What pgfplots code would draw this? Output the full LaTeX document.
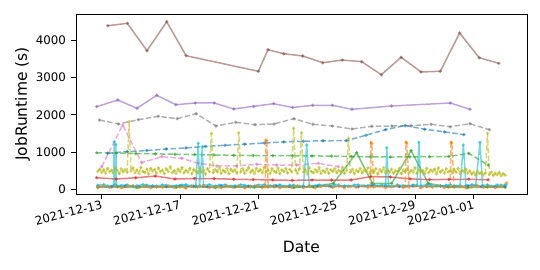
\documentclass[border=0pt]{standalone}
\usepackage{fontspec}
\setmainfont{DejaVu Sans}
\usepackage{pgfplots}
\pgfplotsset{compat=1.18}
\definecolor{tabblue}{HTML}{1F77B4}
\definecolor{taborange}{HTML}{FF7F0E}
\definecolor{tabgreen}{HTML}{2CA02C}
\definecolor{tabred}{HTML}{D62728}
\definecolor{tabpurple}{HTML}{9467BD}
\definecolor{tabbrown}{HTML}{8C564B}
\definecolor{tabpink}{HTML}{E377C2}
\definecolor{tabgray}{HTML}{7F7F7F}
\definecolor{tabolive}{HTML}{BCBD22}
\definecolor{tabcyan}{HTML}{17BECF}
\pgfplotsset{
  ser/.style={line width=1.5bp, opacity=0.6, mark=*, mark size=0.8bp, mark options={solid}},
  dsh/.style={dash pattern=on 5.5bp off 2.4bp},
}
\begin{document}
\begin{tikzpicture}
\begin{axis}[
  at={(76bp,76bp)}, anchor=south west,
  scale only axis, width=451bp, height=180bp,
  xmin=-1.313, xmax=21.72, ymin=-126, ymax=4700,
  xtick={0,4,8,12,16,19},
  xticklabels={2021-12-13,2021-12-17,2021-12-21,2021-12-25,2021-12-29,2022-01-01},
  ytick={0,1000,2000,3000,4000},
  yticklabels={0,1000,2000,3000,4000},
  /pgf/number format/assume math mode=true,
  tick align=outside, tick pos=left, major tick length=4.5bp,
  every tick/.style={black, line width=0.8bp},
  axis line style={line width=0.8bp},
  tick label style={font=\fontsize{11.8bp}{13bp}\selectfont},
  x tick label style={rotate=14, anchor=north east, inner sep=1bp},
  y tick label style={xshift=-2bp},
  xlabel={Date}, ylabel={JobRuntime (s)},
  label style={font=\fontsize{15.5bp}{17bp}\selectfont},
  xlabel style={at={(axis description cs:0.5,-0.324)}, anchor=base},
  ylabel style={at={(axis description cs:-0.1186,0.5)}, anchor=center},
]
% brown
\addplot[ser, color=tabbrown] coordinates {(0.31,4386)(1.31,4450)(2.31,3716)(3.32,4493)(4.31,3582)(8.0,3164)(8.49,3743)(9.3,3635)(10.27,3574)(11.29,3394)(12.29,3466)(13.28,3421)(14.28,3072)(15.29,3539)(16.31,3145)(17.29,3164)(18.28,4190)(19.28,3528)(20.28,3378)};
% purple
\addplot[ser, color=tabpurple] coordinates {(-0.26,2214)(0.82,2394)(1.80,2172)(2.81,2520)(3.79,2268)(4.78,2314)(5.75,2314)(6.74,2153)(7.76,2225)(8.78,2295)(9.75,2193)(10.78,2252)(11.78,2252)(12.78,2145)(14.8,2233)(17.8,2314)(18.81,2145)};
% gray dashed
\addplot[ser, dsh, color=tabgray] coordinates {(-0.12,1858)(0.85,1751)(1.87,1866)(2.89,1957)(3.86,1893)(4.82,2027)(5.84,1697)(6.84,1796)(7.83,1732)(8.8,1751)(9.82,1893)(10.78,1743)(11.78,1697)(12.78,1617)(13.79,1689)(14.81,1697)(15.81,1705)(16.82,1743)(17.8,1678)(18.81,1759)(19.8,1598)};
% blue dashed
\addplot[ser, dsh, color=tabblue] coordinates {(0.3,965)(1.3,1010)(2.3,1040)(3.3,1080)(4.3,1110)(5.3,1150)(6.3,1180)(7.3,1210)(8.3,1240)(9.3,1270)(10.3,1290)(11.3,1300)(12.5,1305)(13.5,1450)(14.5,1600)(15.5,1710)(16.5,1610)(17.5,1540)(18.5,1465)};
% green dashed
\addplot[ser, dsh, color=tabgreen] coordinates {(-0.26,980)(0.74,970)(1.74,960)(2.74,950)(3.74,940)(4.74,930)(5.74,920)(6.74,910)(7.74,905)(8.74,900)(9.74,900)(10.74,895)(11.74,890)(12.74,880)(13.74,870)(14.74,865)(15.74,870)(16.74,875)(17.74,880)(18.74,965)(19.74,650)};
% pink dashed
\addplot[ser, dsh, color=tabpink] coordinates {(0,606)(1.07,1724)(2.04,713)(3.06,874)(4.09,831)(4.93,697)(5.87,625)(6.89,625)(7.92,670)(8.94,651)(9.96,651)(11.06,697)(12.08,606)};
% red
\addplot[ser, color=tabred] coordinates {(-0.26,310)(0.74,275)(1.74,310)(2.74,355)(3.74,275)(4.74,290)(5.74,285)(6.74,270)(7.74,260)(8.74,250)(9.74,240)(10.74,250)(11.74,245)(12.74,250)(13.74,340)(14.74,330)(15.74,280)(16.74,260)(17.74,265)(18.74,270)(19.74,255)};
% olive dashed noisy
\addplot[ser, dsh, color=tabolive] coordinates {
(-0.2,480)(-0.1,540)(0.0,450)(0.1,520)(0.2,430)(0.3,560)(0.4,470)(0.5,510)(0.6,440)(0.7,580)
(0.8,500)(0.9,420)(1.0,550)(1.1,470)(1.2,530)(1.3,460)(1.4,1812)(1.5,490)(1.6,570)(1.7,440)
(1.8,520)(1.9,430)(2.0,590)(2.1,480)(2.2,450)(2.3,540)(2.4,410)(2.5,560)(2.6,490)(2.7,530)
(2.8,440)(2.9,570)(3.0,470)(3.1,510)(3.2,420)(3.3,550)(3.4,480)(3.5,600)(3.6,450)(3.7,500)
(3.8,430)(3.9,540)(4.0,470)(4.1,580)(4.2,440)(4.3,510)(4.4,460)(4.5,560)(4.6,420)(4.7,530)
(4.8,490)(4.9,440)(5.0,570)(5.1,460)(5.2,520)(5.3,410)(5.4,550)(5.5,480)(5.6,1500)(5.7,450)
(5.8,530)(5.9,470)(6.0,590)(6.1,430)(6.2,510)(6.3,460)(6.4,560)(6.5,420)(6.6,540)(6.7,480)
(6.8,520)(6.9,440)(7.0,1517)(7.1,470)(7.2,550)(7.3,430)(7.4,500)(7.5,580)(7.6,460)(7.7,510)
(7.8,420)(7.9,560)(8.0,480)(8.1,530)(8.2,440)(8.3,590)(8.4,470)(8.5,510)(8.6,430)(8.7,550)
(8.8,490)(8.9,450)(9.0,570)(9.1,420)(9.2,520)(9.3,480)(9.4,560)(9.5,440)(9.6,530)(9.7,470)
(9.8,1635)(9.9,510)(10.0,430)(10.1,550)(10.2,1517)(10.3,460)(10.4,520)(10.5,410)(10.6,570)(10.7,480)
(10.8,440)(10.9,530)(11.0,470)(11.1,580)(11.2,420)(11.3,500)(11.4,460)(11.5,550)(11.6,430)(11.7,520)
(11.8,480)(11.9,560)(12.0,440)(12.1,510)(12.2,470)(12.3,590)(12.4,430)(12.5,500)(12.6,1367)(12.7,460)
(12.8,540)(12.9,420)(13.0,510)(13.1,470)(13.2,560)(13.3,440)(13.4,520)(13.5,480)(13.6,570)(13.7,430)
(13.8,500)(13.9,460)(14.0,550)(14.1,410)(14.2,530)(14.3,470)(14.4,580)(14.5,440)(14.6,510)(14.7,460)
(14.8,540)(14.9,430)(15.0,500)(15.1,470)(15.2,560)(15.3,420)(15.4,520)(15.5,480)(15.6,550)(15.7,440)
(15.8,510)(15.9,460)(16.0,580)(16.1,430)(16.2,530)(16.3,470)(16.4,500)(16.5,420)(16.6,560)(16.7,450)
(16.8,520)(16.9,480)(17.0,540)(17.1,410)(17.2,570)(17.3,460)(17.4,510)(17.5,430)(17.6,550)(17.7,470)
(17.8,500)(17.9,440)(18.0,530)(18.1,460)(18.2,560)(18.3,420)(18.4,510)(18.5,470)(18.6,540)(18.7,430)
(18.8,490)(18.9,410)(19.0,460)(19.1,380)(19.2,470)(19.3,420)(19.4,450)(19.5,390)(19.6,440)(19.7,1501)
(19.8,400)(19.9,460)(20.0,370)(20.1,430)(20.2,390)(20.3,450)(20.4,360)(20.5,420)(20.6,380)};
% green solid
\addplot[ser, color=tabgreen] coordinates {(-0.2,50)(0.8,65)(1.8,45)(2.8,60)(3.8,50)(4.8,70)(5.8,45)(6.8,60)(7.8,50)(8.8,65)(9.8,45)(10.8,60)(11.83,160)(13.02,981)(13.82,160)(14.81,160)(15.8,1035)(16.68,160)(17.7,60)(18.7,45)(19.7,60)(20.6,50)};
% blue solid bottom
\addplot[ser, color=tabblue] coordinates {(-0.2,80)(0.5,70)(1.2,90)(1.9,75)(2.6,85)(3.3,70)(4.0,95)(4.7,80)(5.4,70)(6.1,90)(6.8,75)(7.5,85)(8.2,70)(8.9,95)(9.6,80)(10.3,70)(11.0,90)(11.7,75)(12.4,85)(13.1,70)(13.8,95)(14.5,80)(15.2,70)(15.9,90)(16.6,75)(17.3,85)(18.0,70)(18.7,95)(19.4,80)(20.1,70)(20.6,85)};
% cyan
\addplot[ser, color=tabcyan] coordinates {(-0.2,110)(0.1,130)(0.3,90)(0.6,100)(0.64,1276)(0.68,120)(0.72,1200)(0.76,90)(1.0,105)(1.3,120)(1.6,80)(1.8,95)(2.1,125)(2.3,115)(2.6,90)(2.8,85)(3.1,120)(3.3,110)(3.6,80)(3.8,100)(4.1,115)(4.3,125)(4.6,95)(4.8,90)(4.93,1233)(5.0,100)(5.14,1142)(5.2,110)(5.5,125)(5.8,85)(6.0,110)(6.3,120)(6.6,85)(6.8,95)(7.1,125)(7.3,110)(7.6,80)(7.8,90)(8.0,115)(8.3,125)(8.6,90)(8.8,100)(9.1,120)(9.3,85)(9.6,110)(9.8,115)(10.1,80)(10.3,95)(10.47,1188)(10.6,105)(10.9,90)(11.1,120)(11.4,110)(11.6,90)(11.9,125)(12.1,110)(12.4,80)(12.6,85)(12.9,115)(13.1,120)(13.4,90)(13.6,100)(13.9,125)(14.1,90)(14.3,115)(14.5,110)(14.56,1115)(14.65,95)(14.9,80)(15.1,120)(15.4,100)(15.6,85)(15.9,120)(16.1,105)(16.2,1260)(16.3,95)(16.6,125)(16.8,115)(17.1,80)(17.3,90)(17.6,110)(17.8,120)(18.1,85)(18.3,100)(18.47,1188)(18.6,90)(18.9,125)(19.1,115)(19.32,1260)(19.45,100)(19.7,120)(19.9,85)(20.2,115)(20.4,110)(20.65,120)};
% orange dashed
\addplot[ser, dsh, color=taborange] coordinates {(-0.2,60)(0.1,95)(0.4,45)(0.7,80)(1.0,35)(1.3,70)(1.6,100)(1.9,50)(2.2,85)(2.5,40)(2.8,75)(3.1,55)(3.4,95)(3.7,45)(4.0,70)(4.3,30)(4.6,85)(4.9,60)(5.2,100)(5.5,45)(5.8,75)(6.1,40)(6.4,90)(6.7,55)(7.0,80)(7.3,35)(7.6,70)(7.9,95)(8.2,50)(8.35,70)(8.39,1322)(8.43,1300)(8.5,60)(8.8,85)(9.1,40)(9.4,75)(9.7,55)(10.0,95)(10.3,45)(10.6,80)(10.9,35)(11.2,70)(11.5,100)(11.8,50)(12.1,85)(12.4,40)(12.7,75)(13.0,55)(13.3,95)(13.6,45)(13.72,70)(13.75,1250)(13.79,1230)(13.9,60)(14.2,80)(14.5,35)(14.8,70)(15.1,95)(15.4,50)(15.5,70)(15.54,1260)(15.58,1240)(15.7,60)(16.0,85)(16.3,40)(16.6,75)(16.9,55)(17.2,95)(17.5,45)(17.8,70)(17.84,1260)(17.88,1240)(18.0,60)(18.3,80)(18.6,35)(18.9,70)(19.2,100)(19.5,50)(19.8,85)(20.1,40)(20.4,75)(20.68,170)};
\end{axis}
\pgfresetboundingbox
\path (0,0) rectangle (540bp,270bp);
\end{tikzpicture}
\end{document}
